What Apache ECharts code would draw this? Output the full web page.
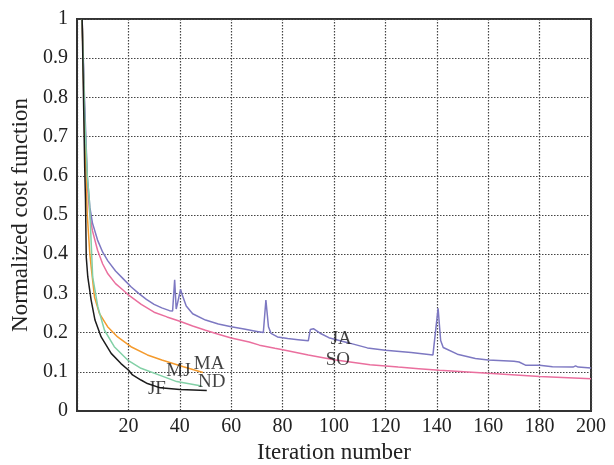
<!DOCTYPE html>
<html><head><meta charset="utf-8">
<script src="https://cdn.jsdelivr.net/npm/echarts@6/dist/echarts.min.js"></script>
<style>html,body{margin:0;padding:0;background:#fff}#c{width:614px;height:465px}</style>
</head><body><div id="c"></div>
<script>
var xTicks = [0,20,40,60,80,100,120,140,160,180,200];
var JA = [[2,1],[3,0.78],[4,0.6],[5,0.52],[6,0.48],[8,0.436],[10,0.405],[12,0.383],[15,0.357],[18,0.337],[21,0.317],[24,0.3],[27,0.285],[30,0.272],[33,0.263],[36,0.256],[37.2,0.255],[38,0.335],[38.6,0.26],[39.3,0.255],[40.3,0.31],[41,0.295],[42.5,0.268],[45,0.248],[50,0.232],[55,0.222],[60,0.215],[65,0.209],[70,0.203],[72.5,0.2],[73.5,0.283],[74.5,0.215],[75.5,0.198],[78,0.189],[82,0.185],[86,0.182],[90,0.179],[90.8,0.208],[92,0.21],[95,0.197],[98,0.187],[105,0.175],[113,0.161],[120,0.155],[130,0.149],[138.5,0.143],[140.5,0.262],[141.5,0.18],[142.5,0.162],[148,0.145],[155,0.134],[160,0.13],[170,0.127],[172,0.125],[174.5,0.117],[180,0.117],[185,0.113],[193,0.112],[194,0.115],[195,0.112],[200,0.11]];
var SO = [[2,1],[3,0.75],[4,0.58],[5,0.5],[6,0.46],[8,0.41],[10,0.375],[12,0.35],[15,0.325],[18,0.308],[20,0.296],[25,0.272],[30,0.252],[35,0.24],[40,0.229],[45,0.217],[50,0.206],[55,0.196],[60,0.186],[67,0.176],[71,0.168],[77,0.16],[81,0.155],[90,0.143],[100,0.131],[114,0.118],[125,0.112],[133,0.108],[141,0.104],[160,0.096],[180,0.088],[200,0.082]];
var MA = [[2,1],[3,0.7],[4,0.5],[5,0.4],[5.5,0.368],[6.8,0.291],[8.7,0.249],[11.9,0.215],[15.8,0.189],[21,0.164],[27.4,0.143],[33,0.13],[41.4,0.113],[49,0.098]];
var ND = [[2,1],[3,0.75],[4,0.6],[4.8,0.538],[6.1,0.342],[8.1,0.266],[10.7,0.206],[14.5,0.164],[19.7,0.13],[24.9,0.109],[33.9,0.087],[38.8,0.075],[48.5,0.064]];
var JF = [[2,1],[3,0.62],[3.3,0.54],[3.6,0.393],[4.2,0.342],[5.5,0.283],[7,0.232],[9.4,0.189],[13.3,0.147],[17.1,0.121],[20.1,0.104],[21.6,0.092],[24.9,0.079],[27.4,0.07],[32.4,0.059],[40,0.055],[50.5,0.052]];
var labelPts = [[39.5,0.103,'MJ'],[51.4,0.12,'MA'],[52.4,0.075,'ND'],[31.1,0.055,'JF'],[102.8,0.183,'JA'],[101.5,0.13,'SO']];

var serif = 'Liberation Serif, DejaVu Serif, serif';
function line(name, data, color){
  return {name:name,type:'line',data:data,symbol:'none',smooth:false,
    lineStyle:{color:color,width:1.5},z:3,silent:true};
}
var chart = echarts.init(document.getElementById('c'),null,{renderer:'canvas'});
chart.setOption({
  animation:false,
  backgroundColor:'#fff',
  grid:{left:77,right:23,top:19,bottom:54,containLabel:false,outerBoundsMode:'none',show:true,borderColor:'#333',borderWidth:2,backgroundColor:'transparent'},
  xAxis:{type:'value',min:0,max:200,interval:20,
    name:'Iteration number',nameLocation:'middle',nameGap:30,
    nameTextStyle:{fontFamily:serif,fontSize:23,color:'#222'},
    axisLine:{show:true,lineStyle:{color:'#333',width:2}},
    axisTick:{show:false},
    axisLabel:{fontFamily:serif,fontSize:20,color:'#222',margin:6,
      formatter:function(v){return v===0?'':String(v);}},
    splitLine:{show:true,lineStyle:{color:'#444',type:[1.5,1.5],width:1.2}}},
  yAxis:{type:'value',min:0,max:1,interval:0.1,
    name:'Normalized cost function',nameLocation:'middle',nameGap:44,
    nameTextStyle:{fontFamily:serif,fontSize:23,color:'#222'},
    axisLine:{show:true,lineStyle:{color:'#333',width:2}},
    axisTick:{show:false},
    axisLabel:{fontFamily:serif,fontSize:20,color:'#222',margin:9,
      formatter:function(v){return (v===0||v===1)?String(v):v.toFixed(1);}},
    splitLine:{show:true,lineStyle:{color:'#444',type:[1.5,1.5],width:1.2}}},
  series:[
    line('SO',SO,'#ea6f9e'),
    line('JA',JA,'#7d78c2'),
    line('MA',MA,'#f49a2c'),
    line('ND',ND,'#82d0a6'),
    line('JF',JF,'#1c1c1c'),
    {name:'labels',type:'scatter',data:labelPts,symbolSize:0,z:5,silent:true,
      label:{show:true,position:'inside',fontFamily:serif,fontSize:19,color:'#111',
        formatter:function(p){return p.data[2];}}}
  ]
});
</script></body></html>
